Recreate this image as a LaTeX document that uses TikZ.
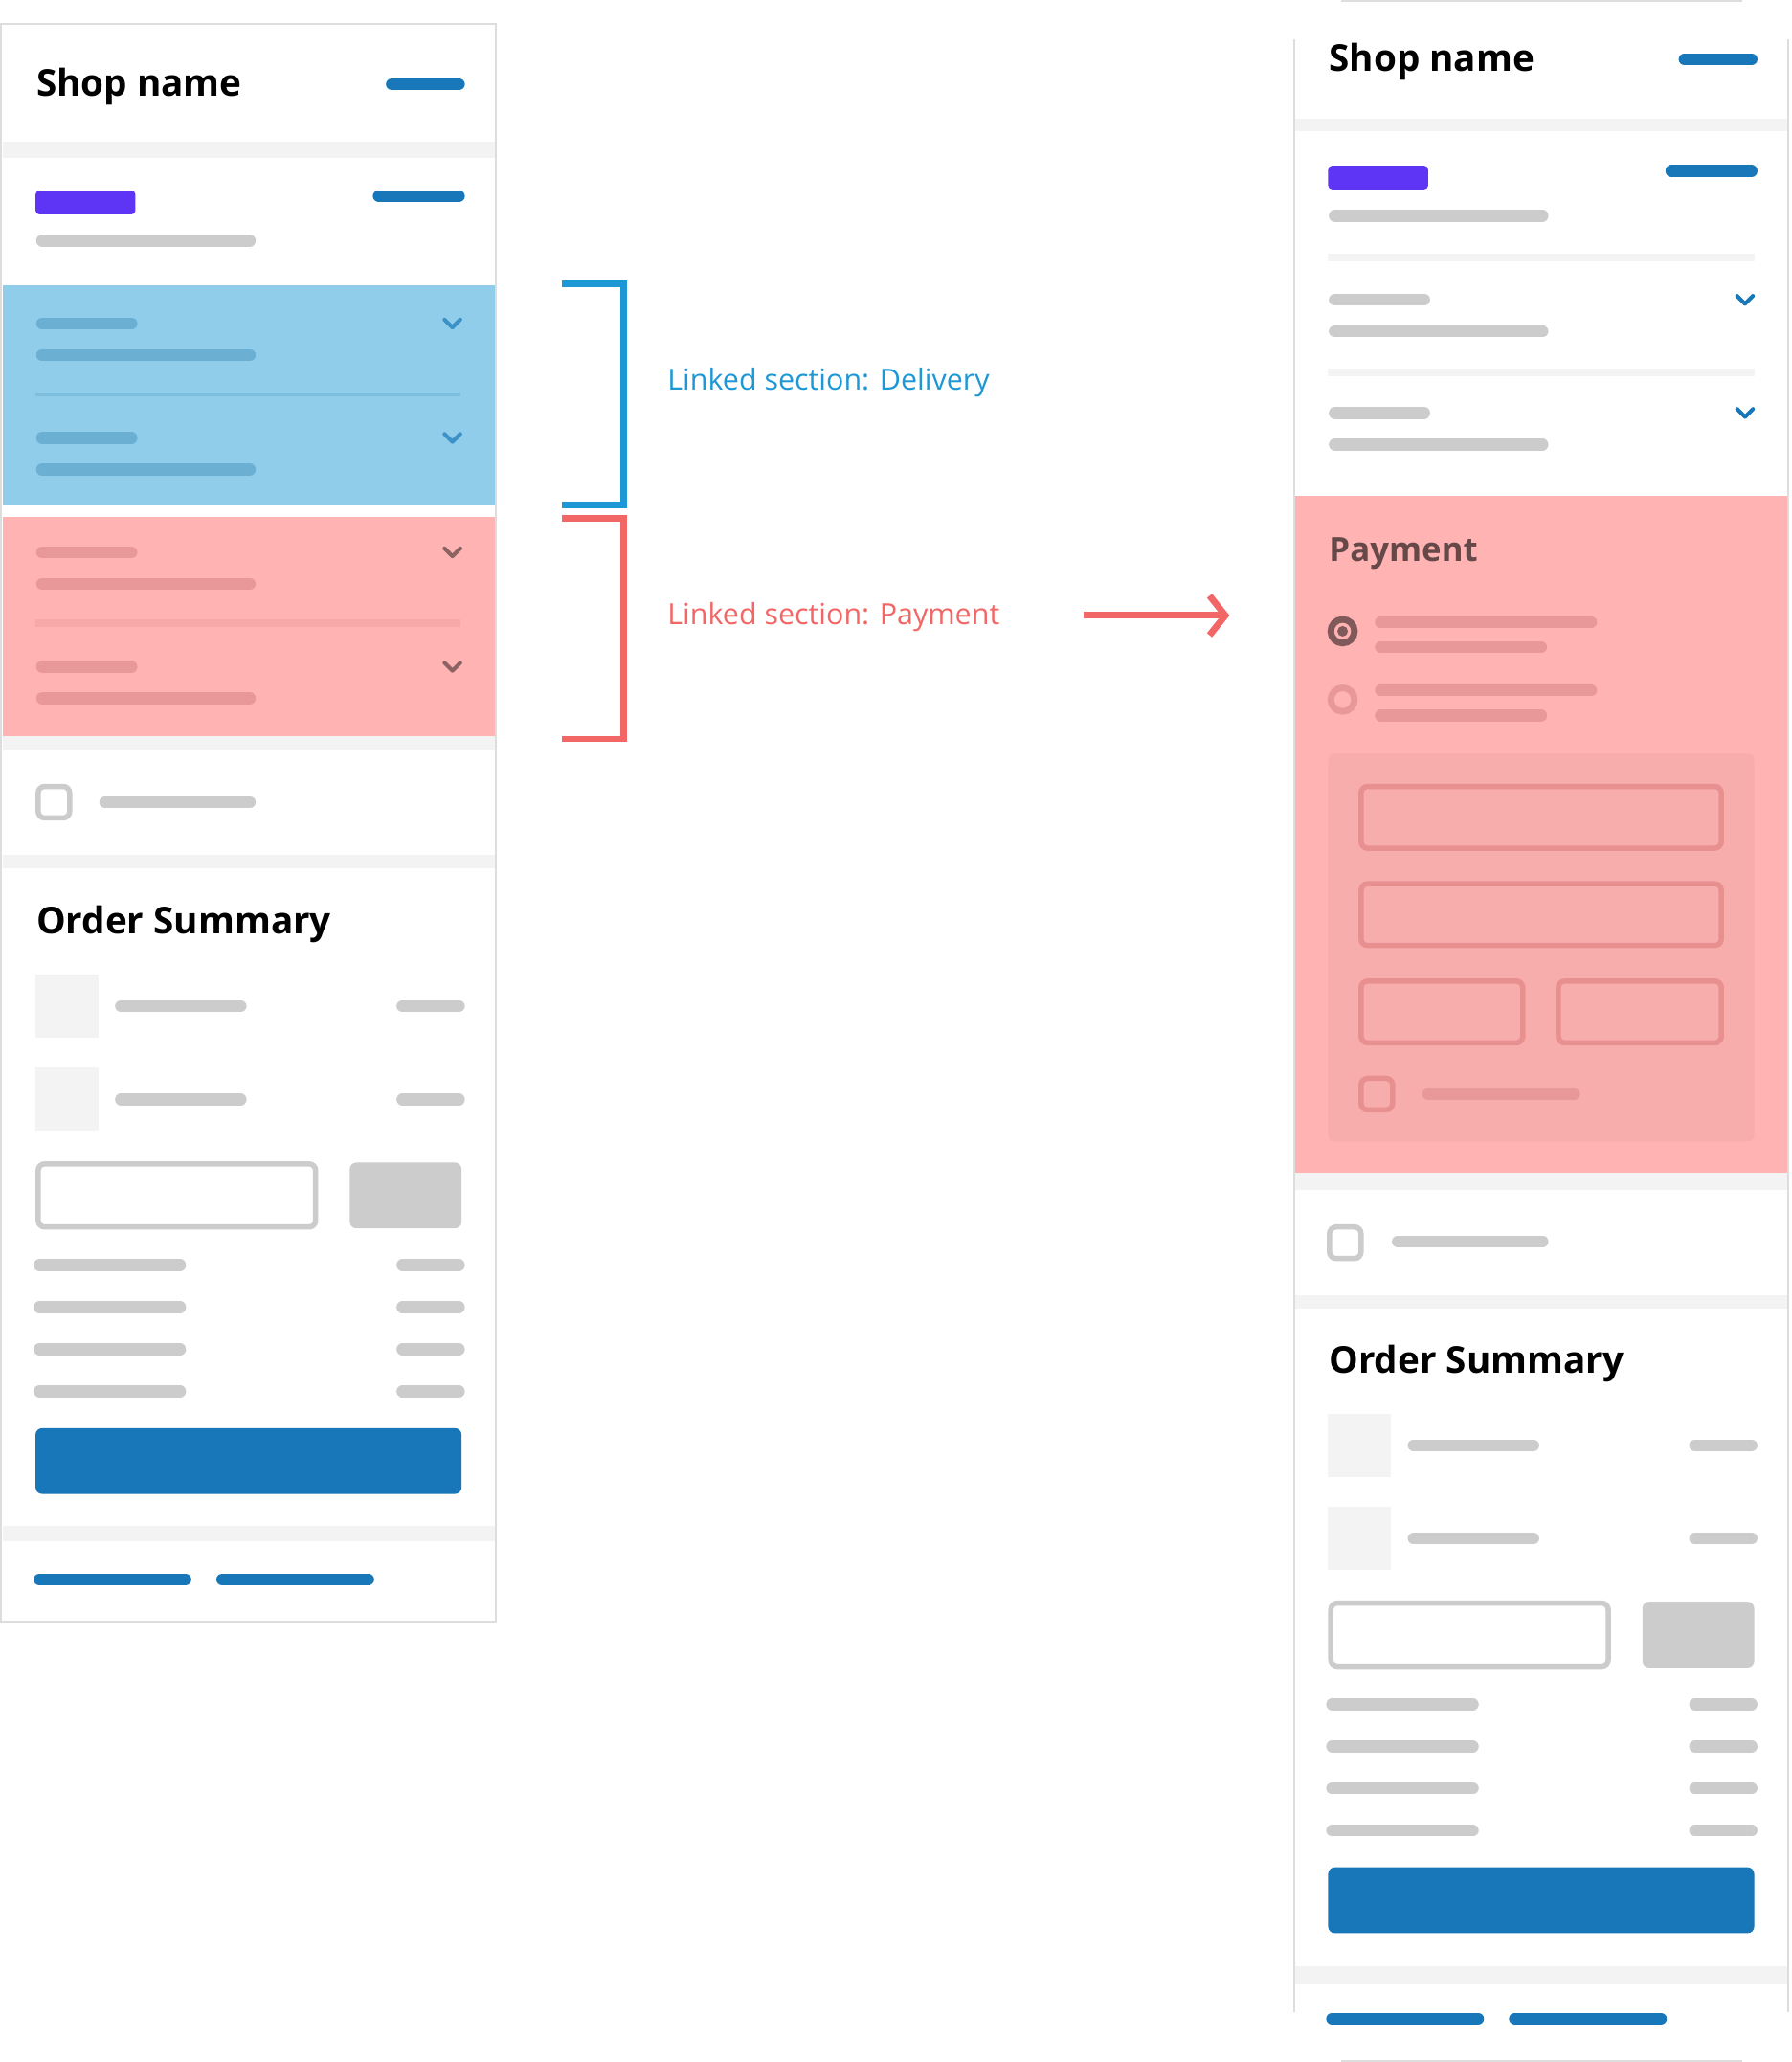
\documentclass[tikz,border=0pt]{standalone}
\usepackage{fontspec}
\setmainfont{Open Sans}
\usetikzlibrary{arrows.meta, positioning}
\definecolor{shopblue}{HTML}{1877B8}
\definecolor{shoppurple}{HTML}{5E35F5}
\definecolor{bargray}{HTML}{CCCCCC}
\definecolor{bandgray}{HTML}{F3F3F3}
\definecolor{panelline}{HTML}{DDDDDD}
\definecolor{delivfill}{HTML}{8FCDEB}
\definecolor{delivbar}{HTML}{6BAFD2}
\definecolor{payfill}{HTML}{FFB3B3}
\definecolor{paybar}{HTML}{E89898}
\definecolor{payinner}{HTML}{F8ADAD}
\definecolor{payline}{HTML}{E89090}
\definecolor{linkblue}{HTML}{1E98D5}
\definecolor{linkred}{HTML}{F26666}
% chevron macro
\newcommand{\chevron}[3][shopblue]{\draw[chev,#1] (#2-6,#3-3) -- (#2,#3+3) -- (#2+6,#3-3);}

\begin{document}
\begin{tikzpicture}[x=0.01cm, y=-0.01cm,
    bar/.style={line width=0.09cm, line cap=round, bargray},
    chev/.style={line width=0.03cm, line cap=round, line join=round, shopblue},
    band/.style={fill=bandgray},
    box/.style={draw=bargray, line width=0.04cm, rounded corners=0.05cm},
    title/.style={anchor=west, inner sep=0, font=\bfseries\fontsize{8}{9}\selectfont},
    link/.style={anchor=west, inner sep=0, font=\fontsize{6.3}{7}\selectfont},
    bracket/.style={line width=0.05cm}
]
\useasboundingbox (0,0) rectangle (1362,1568);

% ---------- left panel ----------
\draw[panelline, fill=white] (1,18) rectangle (377,1233);
\foreach \y/\h in {108/120, 560/570, 650/660, 1160/1172}
  \fill[band] (2,\y) rectangle (376,\h);
\node[title] (leftshop) at (27,66) {Shop name};
\draw[bar, shopblue] (298,64) -- (349,64);
\fill[shoppurple, rounded corners=0.03cm] (27,145) rectangle (103,163);
\draw[bar, shopblue] (288,149) -- (349,149);
\draw[bar] (32,183) -- (190,183);
% delivery
\fill[delivfill] (2,217) rectangle (376,384);
\draw[delivbar!50!delivfill, line width=0.02cm] (27,300) -- (350,300);
\foreach \y in {246,333} {
  \draw[bar, delivbar] (32,\y) -- (100,\y);
  \draw[bar, delivbar] (32,\y+24) -- (190,\y+24);
  \chevron[color=shopblue!70!delivfill]{344}{\y}
}
% payment
\fill[payfill] (2,393) rectangle (376,560);
\draw[paybar!40!payfill, line width=0.06cm] (27,474) -- (350,474);
\foreach \y in {420,507} {
  \draw[bar, paybar] (32,\y) -- (100,\y);
  \draw[bar, paybar] (32,\y+24) -- (190,\y+24);
  \chevron[color=black!45!payfill]{344}{\y}
}
% checkbox
\draw[box] (29,598) rectangle (53,622);
\draw[bar] (80,610) -- (190,610);

% order summary (left)
\begin{scope}
\node[title] (leftorder) at (27,703) {Order Summary};
\foreach \y in {765,836} {
  \fill[band] (27,\y-24) rectangle (75,\y+24);
  \draw[bar] (92,\y) -- (183,\y);
  \draw[bar] (306,\y) -- (349,\y);
}
\draw[box] (29,885) rectangle (240,933);
\fill[bargray, rounded corners=0.05cm] (266,884) rectangle (351,934);
\foreach \y in {962,994,1026,1058} {
  \draw[bar] (30,\y) -- (137,\y);
  \draw[bar] (306,\y) -- (349,\y);
}
\fill[shopblue, rounded corners=0.05cm] (27,1086) rectangle (351,1136);
\end{scope}
\draw[bar, shopblue] (30,1201) -- (141,1201);
\draw[bar, shopblue] (169,1201) -- (280,1201);

% ---------- brackets and labels ----------
\draw[bracket, linkblue] (427,216) -- (474,216) -- (474,384) -- (427,384);
\draw[bracket, linkred] (427,394) -- (474,394) -- (474,562) -- (427,562);
\node[link, linkblue] (delivlabel) at (507,291) {Linked section: Delivery};
\node[link, linkred] (paylabel) at (507,469) {Linked section: Payment};
\coordinate (payend) at (935,468);
\draw[linkred, line width=0.05cm, -{Straight Barb[length=0.12cm, width=0.3cm]}] (824,468) -- (payend);

% ---------- right panel ----------
\fill[white] (984,0) rectangle (1360,1568);
\draw[panelline] (1020,1) -- (1325,1);
\draw[panelline] (984,30) -- (984,1530);
\draw[panelline] (1360,30) -- (1360,1530);
\foreach \y/\h in {90/100, 892/905, 985/995, 1495/1508}
  \fill[band] (985,\y) rectangle (1359,\h);
\node[title] (rightshop) at (1010,47) {Shop name};
\draw[bar, shopblue] (1281,45) -- (1332,45);
\fill[shoppurple, rounded corners=0.03cm] (1010,126) rectangle (1086,144);
\draw[bar, shopblue] (1271,130) -- (1332,130);
\draw[bar] (1015,164) -- (1173,164);
\foreach \y in {196,283}
  \fill[band] (1010,\y-3) rectangle (1334,\y+3);
\foreach \y in {228,314} {
  \draw[bar] (1015,\y) -- (1083,\y);
  \draw[bar] (1015,\y+24) -- (1173,\y+24);
  \chevron{1327}{\y}
}
% payment expanded
\fill[payfill] (985,377) rectangle (1359,892);
\node[title, font=\bfseries\fontsize{7.2}{8}\selectfont, black!60!payfill] (paytitle) at (1010,421) {Payment};
\draw[black!50!payfill, line width=0.05cm, fill=payfill] (1021,480) circle (0.09cm);
\fill[black!50!payfill] (1021,480) circle (0.04cm);
\draw[paybar, line width=0.05cm] (1021,532) circle (0.09cm);
\foreach \y in {473,525} {
  \draw[bar, paybar] (1050,\y) -- (1210,\y);
  \draw[bar, paybar] (1050,\y+19) -- (1172,\y+19);
}
\fill[payinner, rounded corners=0.05cm] (1010,573) rectangle (1334,868);
\draw[box, payline] (1035,598) rectangle (1309,645);
\draw[box, payline] (1035,672) rectangle (1309,719);
\draw[box, payline] (1035,746) rectangle (1158,793);
\draw[box, payline] (1185,746) rectangle (1309,793);
\draw[box, payline] (1035,820) rectangle (1059,844);
\draw[bar, paybar] (1086,832) -- (1197,832);
% checkbox
\draw[box] (1011,933) rectangle (1035,957);
\draw[bar] (1063,944) -- (1173,944);

% order summary (right)
\begin{scope}[shift={(983,334)}]
\node[title] (rightorder) at (27,703) {Order Summary};
\foreach \y in {765,836} {
  \fill[band] (27,\y-24) rectangle (75,\y+24);
  \draw[bar] (92,\y) -- (183,\y);
  \draw[bar] (306,\y) -- (349,\y);
}
\draw[box] (29,885) rectangle (240,933);
\fill[bargray, rounded corners=0.05cm] (266,884) rectangle (351,934);
\foreach \y in {962,994,1026,1058} {
  \draw[bar] (30,\y) -- (137,\y);
  \draw[bar] (306,\y) -- (349,\y);
}
\fill[shopblue, rounded corners=0.05cm] (27,1086) rectangle (351,1136);
\end{scope}
\draw[bar, shopblue] (1013,1535) -- (1124,1535);
\draw[bar, shopblue] (1152,1535) -- (1263,1535);
\draw[panelline] (1020,1567) -- (1325,1567);

\end{tikzpicture}
\end{document}
